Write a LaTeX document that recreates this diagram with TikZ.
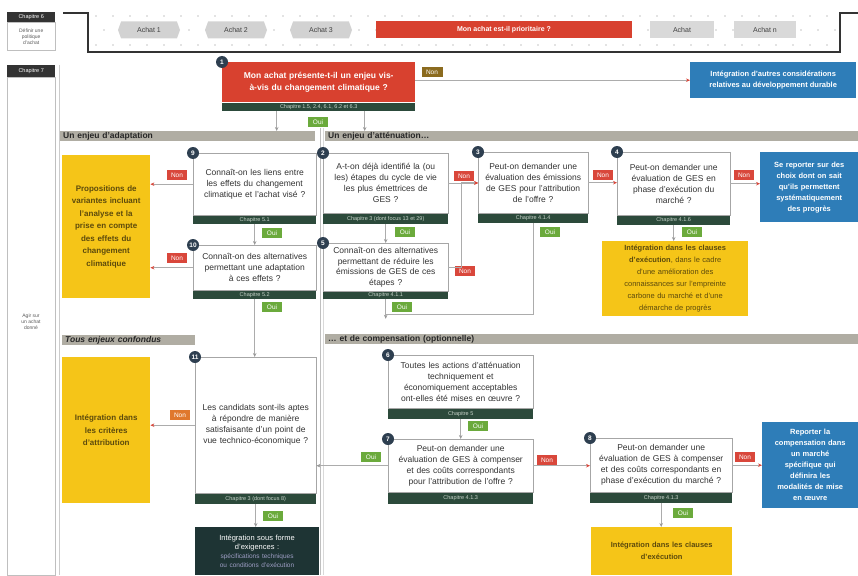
\documentclass[tikz,border=0pt]{standalone}
\usepackage{fontspec}
\setmainfont{Liberation Sans}
\usepackage{xcolor}
\usetikzlibrary{arrows.meta}
\usetikzlibrary{calc}
\usetikzlibrary{shapes.symbols}

\definecolor{rouge}{HTML}{D8412F}
\definecolor{vertoui}{HTML}{6BAA3C}
\definecolor{nonrouge}{HTML}{D9473B}
\definecolor{brun}{HTML}{8B6B1F}
\definecolor{orangenon}{HTML}{E0782D}
\definecolor{jaune}{HTML}{F5C518}
\definecolor{textejaune}{HTML}{5C4A0C}
\definecolor{bleu}{HTML}{2E7DB8}
\definecolor{chapvert}{HTML}{2C4A3B}
\definecolor{chaptexte}{HTML}{C8D4CA}
\definecolor{numc}{HTML}{2E3F50}
\definecolor{grisbar}{HTML}{B0ADA3}
\definecolor{sombre}{HTML}{1E3434}

\begin{document}
\begin{tikzpicture}[x=1pt,y=-1pt]
\tikzstyle{every node}=[font=\fontsize{8}{10}\selectfont]
\tikzstyle{question}=[draw=gray!70,fill=white,anchor=north west,align=center,text=black!80,inner sep=2pt,font=\fontsize{8.5}{11}\selectfont]
\tikzstyle{chap}=[fill=chapvert,text=chaptexte,anchor=north west,inner sep=0pt,font=\fontsize{5.5}{6}\selectfont]
\tikzstyle{num}=[circle,fill=numc,text=white,inner sep=0pt,minimum size=12pt,font=\bfseries\fontsize{6.5}{6.5}\selectfont]
\tikzstyle{oui}=[fill=vertoui,text=white,inner sep=1pt,minimum width=20pt,minimum height=10pt,font=\fontsize{6.5}{7}\selectfont]
\tikzstyle{non}=[fill=nonrouge,text=white,inner sep=1pt,minimum width=20pt,minimum height=10pt,font=\fontsize{6.5}{7}\selectfont]
\tikzstyle{jaunebox}=[fill=jaune,text=textejaune,anchor=north west,align=center,inner xsep=1pt,font=\bfseries\fontsize{8}{12.5}\selectfont]
\tikzstyle{bleubox}=[fill=bleu,text=white,anchor=north west,align=center,inner xsep=2pt,font=\bfseries\fontsize{7.5}{11}\selectfont]
\tikzstyle{entete}=[fill=grisbar,anchor=north west,align=left,inner xsep=3pt,inner ysep=0.5pt,minimum height=10pt,text=black!85,font=\bfseries\fontsize{8.5}{9}\selectfont]
\tikzstyle{achat}=[signal,signal to=east and west,signal pointer angle=140,fill=gray!35,minimum width=62pt,minimum height=17pt,inner sep=1pt,text=black!75,font=\fontsize{7}{8}\selectfont]
\tikzstyle{chapnoir}=[fill=black!80,text=white,anchor=north west,minimum width=48pt,inner sep=0pt,font=\fontsize{5.5}{6}\selectfont]
\tikzstyle{lien}=[draw=gray!65,line width=0.8pt,-{Stealth[length=4pt,width=3.5pt,color=gray!80]}]
\tikzstyle{lienrouge}=[draw=gray!65,line width=0.8pt,-{Stealth[length=4pt,width=3.5pt,color=nonrouge]}]
\useasboundingbox (0,0) rectangle (858,575);

% bandeau du haut
\node[chapnoir,minimum height=10pt] (ch6) at (7,12) {Chapitre 6};
\node[draw=gray!50,anchor=north west,minimum width=48pt,minimum height=28pt,inner sep=0pt,align=center,text=gray!70!black,font=\fontsize{5}{6}\selectfont] (def) at (ch6.south west) {Définir une\\politique\\d'achat};
\foreach \i in {0,...,43} {
  \fill[gray!45] (96+17*\i,16) circle (0.9);
  \fill[gray!45] (104+17*\i,30) circle (0.9);
  \fill[gray!45] (96+17*\i,45) circle (0.9);
}
\draw[line width=1.2pt,black!80] (63,13) -- (88,13) -- (88,52) -- (840,52) -- (840,13) -- (858,13);
\node[achat] (a1) at (149,30) {Achat 1};
\node[achat] (a2) at (236,30) {Achat 2};
\node[achat] (a3) at (321,30) {Achat 3};
\node[fill=rouge,text=white,minimum width=256pt,minimum height=17pt,font=\bfseries\fontsize{7}{8}\selectfont] (prio) at (504,30) {Mon achat est-il prioritaire ?};
\node[fill=gray!30,minimum width=64pt,minimum height=17pt,text=black!75,font=\fontsize{7}{8}\selectfont] (a4) at (682,30) {Achat};
\node[fill=gray!30,minimum width=62pt,minimum height=17pt,text=black!75,font=\fontsize{7}{8}\selectfont] (an) at (765,30) {Achat n};

% colonne de gauche
\node[chapnoir,minimum height=12pt] (ch7) at (7,65) {Chapitre 7};
\node[draw=gray!50,anchor=north west,minimum width=48pt,minimum height=498pt,inner sep=0pt] (col) at (ch7.south west) {};
\node[align=center,text=gray!70!black,font=\fontsize{5}{6}\selectfont] (agir) at (31,322) {Agir sur\\un achat\\donné};
\draw[gray!40] (59,65) -- (59,575);
\draw[gray!50] (320,128) -- (320,575);
\draw[gray!30] (323,128) -- (323,575);

% question 1
\node[fill=rouge,anchor=north west,minimum width=193pt,minimum height=40pt,text width=187pt,align=center,text=white,inner sep=3pt,font=\bfseries\fontsize{8.5}{12}\selectfont] (q1) at (222,62) {Mon achat présente-t-il un enjeu vis-\\à-vis du changement climatique ?};
\node[chap,minimum width=193pt,minimum height=8pt] (f1) at (q1.south west) {Chapitre 1.5, 2.4, 6.1, 6.2 et 6.3};
\node[num] (n1) at (q1.north west) {1};
\node[fill=brun,text=white,inner sep=1pt,minimum width=21pt,minimum height=10pt,font=\fontsize{6.5}{7}\selectfont] (non1) at (432,72) {Non};
\node[bleubox,minimum width=166pt,minimum height=36pt] (b1) at (690,62) {Intégration d'autres considérations\\relatives au développement durable};
\node[oui] (oui1) at (318,122) {Oui};

% en-tetes
\node[entete,minimum width=255pt,text width=249pt] (ha) at (60,131) {Un enjeu d'adaptation};
\node[entete,minimum width=533pt,text width=527pt] (hb) at (325,131) {Un enjeu d'atténuation…};
\node[entete,minimum width=133pt,text width=127pt,font=\bfseries\itshape\fontsize{8.5}{9}\selectfont] (hc) at (62,335) {Tous enjeux confondus};
\node[entete,minimum width=533pt,text width=527pt] (hd) at (325,334) {… et de compensation (optionnelle)};

% adaptation
\node[jaunebox,minimum width=88pt,minimum height=143pt,text width=86pt] (j1) at (62,155) {Propositions de\\variantes incluant\\l'analyse et la\\prise en compte\\des effets du\\changement\\climatique};
\node[question,minimum width=123pt,minimum height=62pt,text width=119pt] (q9) at (193,153) {Connaît-on les liens entre\\les effets du changement\\climatique et l'achat visé ?};
\node[chap,minimum width=123pt,minimum height=8pt] (f9) at (q9.south west) {Chapitre 5.1};
\node[num] (n9) at (q9.north west) {9};
\node[non] (non9) at (177,175) {Non};
\node[oui] (oui9) at (272,233) {Oui};
\node[question,minimum width=123pt,minimum height=45pt,text width=119pt] (q10) at (193,245) {Connaît-on des alternatives\\permettant une adaptation\\à ces effets ?};
\node[chap,minimum width=123pt,minimum height=8pt] (f10) at (q10.south west) {Chapitre 5.2};
\node[num] (n10) at (q10.north west) {10};
\node[non] (non10) at (177,258) {Non};
\node[oui] (oui10) at (272,307) {Oui};

% tous enjeux
\node[jaunebox,minimum width=88pt,minimum height=146pt,text width=86pt] (j2) at (62,357) {Intégration dans\\les critères\\d'attribution};
\node[question,minimum width=121pt,minimum height=136pt,text width=117pt] (q11) at (195,357) {Les candidats sont-ils aptes\\à répondre de manière\\satisfaisante d'un point de\\vue technico-économique ?};
\node[chap,minimum width=121pt,minimum height=10pt] (f11) at (q11.south west) {Chapitre 3 (dont focus 8)};
\node[num] (n11) at (q11.north west) {11};
\node[fill=orangenon,text=white,inner sep=1pt,minimum width=20pt,minimum height=10pt,font=\fontsize{6.5}{7}\selectfont] (non11) at (180,415) {Non};
\node[oui] (oui11) at (273,516) {Oui};
\node[fill=sombre,anchor=north west,minimum width=121pt,minimum height=48pt,text width=117pt,align=center,text=white,font=\fontsize{7.5}{9.5}\selectfont] (dk) at (195,527) {Intégration sous forme\\d'exigences :\\{\color{blue!25!gray!60}\fontsize{6.5}{8.5}\selectfont spécifications techniques\\ou conditions d'exécution}};

% attenuation
\node[question,minimum width=125pt,minimum height=60pt,text width=121pt] (q2) at (323,153) {A-t-on déjà identifié la (ou\\les) étapes du cycle de vie\\les plus émettrices de\\GES ?};
\node[chap,minimum width=125pt,minimum height=10pt] (f2) at (q2.south west) {Chapitre 3 (dont focus 13 et 29)};
\node[num] (n2) at (q2.north west) {2};
\node[non] (non2) at (464,176) {Non};
\node[oui] (oui2) at (405,232) {Oui};
\node[question,minimum width=125pt,minimum height=48pt,text width=121pt,inner ysep=1pt,font=\fontsize{8.5}{10.5}\selectfont] (q5) at (323,243) {Connaît-on des alternatives\\permettant de réduire les\\émissions de GES de ces\\étapes ?};
\node[chap,minimum width=125pt,minimum height=7pt] (f5) at (q5.south west) {Chapitre 4.1.1};
\node[num] (n5) at (q5.north west) {5};
\node[non] (non5) at (465,271) {Non};
\node[oui] (oui5) at (402,307) {Oui};
\node[question,minimum width=110pt,minimum height=61pt,text width=106pt] (q3) at (478,152) {Peut-on demander une\\évaluation des émissions\\de GES pour l'attribution\\de l'offre ?};
\node[chap,minimum width=110pt,minimum height=9pt] (f3) at (q3.south west) {Chapitre 4.1.4};
\node[num] (n3) at (q3.north west) {3};
\node[non] (non3) at (603,175) {Non};
\node[oui] (oui3) at (550,232) {Oui};
\node[question,minimum width=113pt,minimum height=63pt,text width=109pt] (q4) at (617,152) {Peut-on demander une\\évaluation de GES en\\phase d'exécution du\\marché ?};
\node[chap,minimum width=113pt,minimum height=9pt] (f4) at (q4.south west) {Chapitre 4.1.6};
\node[num] (n4) at (q4.north west) {4};
\node[non] (non4) at (744,175) {Non};
\node[oui] (oui4) at (692,232) {Oui};
\node[bleubox,minimum width=98pt,minimum height=70pt,text width=94pt] (b2) at (760,152) {Se reporter sur des\\choix dont on sait\\qu'ils permettent\\systématiquement\\des progrès};
\node[jaunebox,minimum width=146pt,minimum height=75pt,text width=144pt,font=\fontsize{7.5}{12}\selectfont] (j3) at (602,241) {\textbf{Intégration dans les clauses}\\\textbf{d'exécution}, dans le cadre\\d'une amélioration des\\connaissances sur l'empreinte\\carbone du marché et d'une\\démarche de progrès};

% compensation
\node[question,minimum width=145pt,minimum height=53pt,text width=141pt] (q6) at (388,355) {Toutes les actions d'atténuation\\techniquement et\\économiquement acceptables\\ont-elles été mises en œuvre ?};
\node[chap,minimum width=145pt,minimum height=10pt] (f6) at (q6.south west) {Chapitre 5};
\node[num] (n6) at (q6.north west) {6};
\node[oui] (oui6) at (478,426) {Oui};
\node[question,minimum width=145pt,minimum height=53pt,text width=141pt] (q7) at (388,439) {Peut-on demander une\\évaluation de GES à compenser\\et des coûts correspondants\\pour l'attribution de l'offre ?};
\node[chap,minimum width=145pt,minimum height=11pt] (f7) at (q7.south west) {Chapitre 4.1.3};
\node[num] (n7) at (q7.north west) {7};
\node[oui] (oui7) at (371,457) {Oui};
\node[non] (non7) at (547,460) {Non};
\node[question,minimum width=142pt,minimum height=54pt,text width=138pt] (q8) at (590,438) {Peut-on demander une\\évaluation de GES à compenser\\et des coûts correspondants en\\phase d'exécution du marché ?};
\node[chap,minimum width=142pt,minimum height=10pt] (f8) at (q8.south west) {Chapitre 4.1.3};
\node[num] (n8) at (q8.north west) {8};
\node[non] (non8) at (745,457) {Non};
\node[oui] (oui8) at (683,513) {Oui};
\node[bleubox,minimum width=96pt,minimum height=86pt,text width=92pt] (b3) at (762,422) {Reporter la\\compensation dans\\un marché\\spécifique qui\\définira les\\modalités de mise\\en œuvre};
\node[jaunebox,minimum width=141pt,minimum height=48pt,text width=139pt,font=\bfseries\fontsize{7.5}{12}\selectfont] (j4) at (591,527) {Intégration dans les clauses\\d'exécution};

% liens
\coordinate (g1) at ($(f1.south)+(-42,0)$);
\coordinate (g2) at ($(f1.south)+(46,0)$);
\draw[lien] (g1) -- (g1 |- ha.north);
\draw[lien] (g2) -- (g2 |- hb.north);
\draw[lienrouge] (q1.east |- b1) -- (b1.west);
\draw[lienrouge] (q9.west) -- (q9.west -| j1.east);
\draw[lien] (f9.south) -- (q10.north);
\draw[lienrouge] (q10.west) -- (q10.west -| j1.east);
\draw[lien] (f10.south) -- (f10.south |- q11.north);
\draw[lienrouge] (q11.west) -- (q11.west -| j2.east);
\draw[lien] (f11.south) -- (f11.south |- dk.north);
\draw[lienrouge] (q2.east) -- (q2.east -| q3.west);
\draw[lien] (f2.south) -- (q5.north);
\coordinate (jn) at (461,0);
\draw[lienrouge] (q5.east) -- (q5.east -| jn) -- (jn |- q3.west) -- (q3.west);
\draw[lienrouge] (q3.east) -- (q3.east -| q4.west);
\draw[lienrouge] (q4.east) -- (q4.east -| b2.west);
\draw[lien] (f4.south) -- (f4.south |- j3.north);
\coordinate (m1) at ($(f5.south)+(0,20)$);
\coordinate (m0) at ($(f5.south)+(0,16)$);
\draw[lien] (f5.south) -- (m1);
\draw[draw=gray!65,line width=0.8pt] (f3.south) |- (m0);
\draw[lien] (f6.south) -- (q7.north);
\draw[lien] (q7.west) -- (q7.west -| q11.east);
\draw[lienrouge] (q7.east) -- (q7.east -| q8.west);
\draw[lienrouge] (q8.east) -- (q8.east -| b3.west);
\draw[lien] (f8.south) -- (f8.south |- j4.north);
\end{tikzpicture}
\end{document}
